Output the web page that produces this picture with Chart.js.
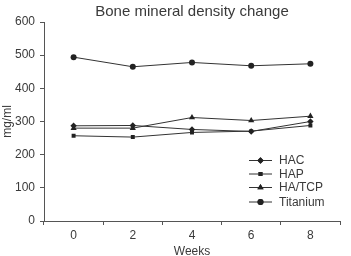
<!DOCTYPE html>
<html><head><meta charset="utf-8">
<script src="https://cdn.jsdelivr.net/npm/chart.js@4"></script>
<style>html,body{margin:0;padding:0;background:#fff}#wrap{width:351px;height:256px}</style>
</head><body><div id="wrap"><canvas id="c" width="351" height="256"></canvas></div>
<script>
const weeks = ['0', '2', '4', '6', '8'];
const hac = [287, 288, 276, 270, 300];
const hap = [257, 253, 267, 271, 288];
const haTcp = [280, 280, 312, 303, 316];
const titanium = [494, 465, 478, 468, 474];
const yTicks = [0, 100, 200, 300, 400, 500, 600];

const ink = '#333333';
const txt = '#3a3a3a';
const FONT = 'Liberation Sans, Arial, sans-serif';

function ds(label, data, style, r) {
  return { label, data, pointStyle: style, pointRadius: r, pointHoverRadius: r,
    borderColor: ink, backgroundColor: '#222', pointBorderColor: '#222',
    pointBackgroundColor: '#222', borderWidth: 1, pointBorderWidth: 0, tension: 0 };
}

const legendInside = {
  id: 'legendInside',
  afterDatasetsDraw(chart) {
    const ctx = chart.ctx;
    const x0 = 249, x1 = 272, tx = 279;
    const ys = [160.5, 174, 187.5, 202];
    chart.data.datasets.forEach((d, i) => {
      const y = ys[i];
      ctx.save();
      ctx.strokeStyle = ink; ctx.lineWidth = 1;
      ctx.beginPath(); ctx.moveTo(x0, y); ctx.lineTo(x1, y); ctx.stroke();
      ctx.fillStyle = '#222';
      Chart.helpers.drawPoint(ctx, { pointStyle: d.pointStyle, radius: d.pointRadius, borderWidth: 0 }, (x0 + x1) / 2, y);
      ctx.fill();
      ctx.font = '12px ' + FONT; ctx.fillStyle = txt;
      ctx.textBaseline = 'middle'; ctx.textAlign = 'left';
      ctx.fillText(d.label, tx, y + 0.5);
      ctx.restore();
    });
  }
};

new Chart(document.getElementById('c'), {
  type: 'line',
  data: { labels: weeks, datasets: [
    ds('HAC', hac, 'rectRot', 3.2),
    ds('HAP', hap, 'rect', 2.8),
    ds('HA/TCP', haTcp, 'triangle', 3.6),
    ds('Titanium', titanium, 'circle', 3)
  ]},
  options: {
    responsive: false, animation: false, devicePixelRatio: 1,
    layout: { padding: { left: 0, right: 11, top: 0, bottom: 0 } },
    plugins: {
      legend: { display: false }, tooltip: { enabled: false },
      title: { display: true, fullSize: false, text: 'Bone mineral density change', color: txt,
        font: { family: FONT, size: 15, weight: 'normal' }, padding: { top: 3, bottom: 1 } }
    },
    scales: {
      x: {
        offset: true,
        grid: { offset: true, drawOnChartArea: false, tickLength: 4, color: '#555' },
        border: { color: '#555', width: 1 },
        ticks: { color: txt, font: { family: FONT, size: 12 }, padding: 3 },
        title: { display: true, text: 'Weeks', color: txt, font: { family: FONT, size: 12 }, padding: { top: 2, bottom: -3 } },
        afterFit(s) { s.height = 35; }
      },
      y: {
        min: 0, max: 600,
        afterBuildTicks(s) { s.ticks = yTicks.map(v => ({ value: v })); },
        grid: { drawOnChartArea: false, tickLength: 4, color: '#555' },
        border: { color: '#555', width: 1 },
        ticks: { color: txt, font: { family: FONT, size: 12 }, padding: 5 },
        title: { display: true, text: 'mg/ml', color: txt, font: { family: FONT, size: 12 }, padding: 0 },
        afterFit(s) { s.width = 44; }
      }
    }
  },
  plugins: [legendInside]
});
</script></body></html>
